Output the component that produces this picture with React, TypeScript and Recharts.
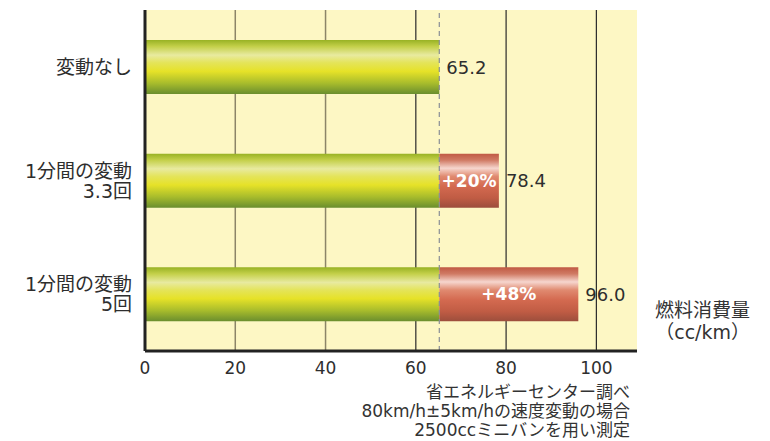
import React from 'react';
import {
  BarChart, Bar, XAxis, YAxis, CartesianGrid, ReferenceLine, LabelList,
} from 'recharts';

const categories = ['変動なし', '1分間の変動\n3.3回', '1分間の変動\n5回'];
const baseValues = [65.2, 65.2, 65.2];
const totalValues = [65.2, 78.4, 96.0];
const percentLabels = ['', '+20%', '+48%'];
const xTicks = [0, 20, 40, 60, 80, 100];
const lightGridValues = [20, 40];
const darkGridValues = [60, 80, 100];
const xMax = 109;
const unitLabel = ['燃料消費量', '（cc/km）'];
const noteLines = [
  '省エネルギーセンター調べ',
  '80km/h±5km/hの速度変動の場合',
  '2500ccミニバンを用い測定',
];

const data = categories.map((name, i) => ({
  name,
  base: baseValues[i],
  extra: Math.round((totalValues[i] - baseValues[i]) * 10) / 10,
  total: totalValues[i],
  pct: percentLabels[i],
}));

const FONT = '"DejaVu Sans", "Noto Sans CJK JP", sans-serif';
const TEXT_COLOR = '#2e2e2e';

const YTick = (props: any) => {
  const { x, y, payload } = props;
  const lines = String(payload.value).split('\n');
  const lh = 20;
  const start = y - ((lines.length - 1) * lh) / 2;
  return (
    <g>
      {lines.map((l: string, i: number) => (
        <text key={i} x={x - 5} y={start + i * lh} textAnchor="end" dominantBaseline="central"
          fontSize={19} fill={TEXT_COLOR} fontFamily={FONT}>{l}</text>
      ))}
    </g>
  );
};

// label placed at the end of the total value: base bar spans 0..base, so
// scale(total) = x + width * total / base
const ValueLabel = (props: any) => {
  const { x, y, width, height, index } = props;
  const row = data[index];
  const endX = x + (width * row.total) / row.base;
  return (
    <text x={endX + 7} y={y + height / 2} dominantBaseline="central" fontSize={18}
      fill={TEXT_COLOR} fontFamily={FONT}>{Number(row.total).toFixed(1)}</text>
  );
};

const PctLabel = (props: any) => {
  const { x, y, width, height, value } = props;
  if (!value) return null;
  return (
    <text x={x + width / 2} y={y + height / 2} textAnchor="middle" dominantBaseline="central"
      fontSize={17} fontWeight="bold" fill="#ffffff" fontFamily={FONT}>{value}</text>
  );
};

export default function App() {
  return (
    <div style={{ position: 'absolute', left: 0, top: 0, width: 770, height: 441, background: '#fff', fontFamily: FONT }}>
      <BarChart width={770} height={441} data={data} layout="vertical"
        margin={{ top: 10, right: 133, bottom: 60, left: 0 }} barCategoryGap={30}>
        <defs>
          <linearGradient id="gGreen" x1="0" y1="0" x2="0" y2="1">
            <stop offset="0" stopColor="#98b224" />
            <stop offset="0.12" stopColor="#c4d04a" />
            <stop offset="0.28" stopColor="#e8eaa0" />
            <stop offset="0.42" stopColor="#e4e45a" />
            <stop offset="0.58" stopColor="#e6e228" />
            <stop offset="0.8" stopColor="#a8bc2c" />
            <stop offset="1" stopColor="#6a8e2e" />
          </linearGradient>
          <linearGradient id="gRed" x1="0" y1="0" x2="0" y2="1">
            <stop offset="0" stopColor="#c05a44" />
            <stop offset="0.12" stopColor="#d07a64" />
            <stop offset="0.27" stopColor="#f6d6ce" />
            <stop offset="0.42" stopColor="#e08a70" />
            <stop offset="0.6" stopColor="#d46a50" />
            <stop offset="0.82" stopColor="#c05c44" />
            <stop offset="1" stopColor="#9c4e3c" />
          </linearGradient>
        </defs>
        <CartesianGrid fill="#fdf7c4" horizontal={false} vertical={false} />
        <CartesianGrid horizontal={false} verticalValues={lightGridValues} stroke="#8c8568" strokeWidth={1.5} fill="none" />
        <CartesianGrid horizontal={false} verticalValues={darkGridValues} stroke="#2a2a2a" strokeWidth={1.2} fill="none" />
        <XAxis type="number" domain={[0, xMax]} ticks={xTicks} allowDataOverflow
          axisLine={{ stroke: '#222', strokeWidth: 3 }} tickLine={false} tickMargin={5}
          tick={{ fontSize: 17, fill: TEXT_COLOR, fontFamily: FONT }} height={30} />
        <XAxis xAxisId="top" orientation="top" type="number" domain={[0, xMax]} tick={false}
          tickLine={false} axisLine={{ stroke: '#999', strokeWidth: 2 }} height={0} />
        <YAxis type="category" dataKey="name" width={145} tickLine={false}
          axisLine={{ stroke: '#222', strokeWidth: 3 }} tick={<YTick />} />
        <YAxis yAxisId="right" orientation="right" type="category" dataKey="name" width={0}
          tick={false} tickLine={false} axisLine={{ stroke: '#333', strokeWidth: 3 }} />
        <Bar dataKey="base" stackId="a" fill="url(#gGreen)" barSize={54} isAnimationActive={false}>
          <LabelList dataKey="total" content={<ValueLabel />} />
        </Bar>
        <Bar dataKey="extra" stackId="a" fill="url(#gRed)" barSize={54} isAnimationActive={false}>
          <LabelList dataKey="pct" content={<PctLabel />} />
        </Bar>
        <ReferenceLine x={baseValues[0]} stroke="#8a8e96" strokeWidth={1.2} strokeDasharray="5 4" />
      </BarChart>
      <div style={{ position: 'absolute', right: 20, top: 299, textAlign: 'right', fontSize: 19, lineHeight: '22px', color: '#333', whiteSpace: 'pre' }}>
        {unitLabel.map((l, i) => <div key={i}>{l}</div>)}
      </div>
      <div style={{ position: 'absolute', right: 140, top: 383, textAlign: 'right', fontSize: 17, lineHeight: '19px', color: '#333', whiteSpace: 'pre' }}>
        {noteLines.map((l, i) => <div key={i}>{l}</div>)}
      </div>
    </div>
  );
}
